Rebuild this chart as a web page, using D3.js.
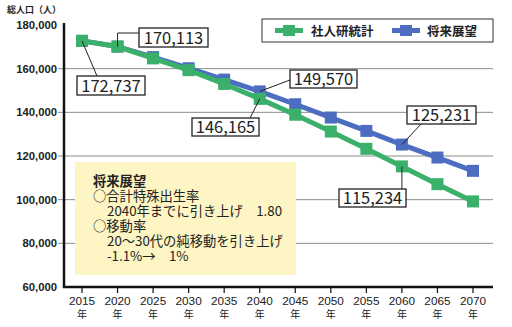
<!DOCTYPE html>
<html>
<head>
<meta charset="utf-8">
<script src="https://cdn.jsdelivr.net/npm/d3@7"></script>
<style>
  html, body { margin: 0; padding: 0; background: #fff; }
  svg { display: block; }
</style>
</head>
<body>
<svg id="chart" width="512" height="327"></svg>
<script>
// Population projection: 社人研統計 vs 将来展望
const years = [2015, 2020, 2025, 2030, 2035, 2040, 2045, 2050, 2055, 2060, 2065, 2070];
const shajinken = [172737, 170113, 164700, 159300, 153000, 146165, 138900, 131200, 123300, 115234, 107100, 99200];
const shorai = [172737, 170113, 165300, 160200, 155000, 149570, 143700, 137600, 131500, 125231, 119300, 113200];
const yTicks = [60000, 80000, 100000, 120000, 140000, 160000, 180000];
const seriesNames = ["社人研統計", "将来展望"];
const noteLines = ["将来展望", "○合計特殊出生率", "2040年までに引き上げ　1.80", "○移動率", "20～30代の純移動を引き上げ", "-1.1%→　1%"];

const colors = { green: "#3bb06a", blue: "#4d6ec0" };
const jp = "'Noto Sans CJK JP', 'Noto Sans', sans-serif";
const num = "'Liberation Sans', Arial, sans-serif";

const svg = d3.select("#chart");
const plot = { left: 64, right: 493, top: 25, bottom: 287 };

const x = d3.scalePoint().domain(years).range([82, 473]);
const y = d3.scaleLinear().domain([60000, 180000]).range([plot.bottom, plot.top]);

// gridlines
svg.append("g").selectAll("line")
  .data(yTicks.filter(v => v > 60000 && v < 180000))
  .join("line")
  .attr("x1", plot.left - 6).attr("x2", plot.right)
  .attr("y1", d => y(d)).attr("y2", d => y(d))
  .attr("stroke", "#8c8c8c").attr("stroke-width", 1);

// y tick labels
svg.append("g").selectAll("text")
  .data(yTicks).join("text")
  .attr("x", 57).attr("y", d => y(d) + 4)
  .attr("text-anchor", "end")
  .attr("font-family", num).attr("font-weight", "bold")
  .attr("font-size", 11.3).attr("fill", "#222")
  .text(d => d3.format(",")(d));

// y-axis title
svg.append("text").attr("x", 7).attr("y", 13)
  .attr("font-family", jp).attr("font-weight", "bold")
  .attr("font-size", 9).attr("fill", "#222")
  .text("総人口（人）");

// note box (one text block, one line per tspan)
const note = svg.append("g");
note.append("rect").attr("x", 75).attr("y", 162).attr("width", 221).attr("height", 113)
  .attr("fill", "#fdf5c4");
const noteX = [93, 93, 107, 93, 107, 107];
const noteY = [186, 201, 216, 231, 246, 261];
note.append("text")
  .attr("font-family", jp).attr("font-size", 13.3).attr("fill", "#222")
  .selectAll("tspan").data(noteLines).join("tspan")
  .attr("x", (d, i) => noteX[i]).attr("y", (d, i) => noteY[i])
  .attr("font-weight", (d, i) => i === 0 ? "bold" : "normal")
  .text(d => d);

// axes lines
svg.append("line").attr("x1", plot.left).attr("x2", plot.left).attr("y1", plot.top - 2).attr("y2", plot.bottom + 1)
  .attr("stroke", "#111").attr("stroke-width", 2.5);
svg.append("line").attr("x1", plot.left - 1).attr("x2", plot.right).attr("y1", plot.bottom).attr("y2", plot.bottom)
  .attr("stroke", "#111").attr("stroke-width", 2.5);

// x ticks
const xg = svg.append("g");
xg.selectAll("line").data(years).join("line")
  .attr("x1", d => x(d)).attr("x2", d => x(d))
  .attr("y1", plot.bottom).attr("y2", plot.bottom + 6)
  .attr("stroke", "#111").attr("stroke-width", 1.2);
xg.selectAll("text.yr").data(years).join("text").attr("class", "yr")
  .attr("x", d => x(d)).attr("y", 305)
  .attr("text-anchor", "middle")
  .attr("font-family", num).attr("font-size", 11.8).attr("fill", "#222")
  .text(d => d);
xg.selectAll("text.nen").data(years).join("text").attr("class", "nen")
  .attr("x", d => x(d)).attr("y", 318)
  .attr("text-anchor", "middle")
  .attr("font-family", jp).attr("font-size", 10).attr("fill", "#222")
  .text("年");

// series
const line = d3.line().x(d => x(d[0])).y(d => y(d[1]));
function drawSeries(vals, color) {
  const pts = years.map((yr, i) => [yr, vals[i]]);
  svg.append("path").datum(pts).attr("d", line)
    .attr("fill", "none").attr("stroke", color).attr("stroke-width", 5)
    .attr("stroke-linejoin", "round");
  svg.append("g").selectAll("rect").data(pts).join("rect")
    .attr("x", d => x(d[0]) - 6).attr("y", d => y(d[1]) - 6)
    .attr("width", 12).attr("height", 12).attr("fill", color);
}
drawSeries(shorai, colors.blue);
drawSeries(shajinken, colors.green);

// value callouts
function callout(series, idx, bx, by, bw, bh, path) {
  const v = series[idx];
  const px = x(years[idx]), py = y(v);
  const g = svg.append("g");
  g.append("path").attr("d", path(px, py)).attr("fill", "none")
    .attr("stroke", "#222").attr("stroke-width", 1);
  g.append("rect").attr("x", bx).attr("y", by).attr("width", bw).attr("height", bh)
    .attr("fill", "#fff").attr("stroke", "#222").attr("stroke-width", 1.3);
  g.append("text").attr("x", bx + bw / 2).attr("y", by + bh / 2 + 6)
    .attr("text-anchor", "middle")
    .attr("font-family", jp).attr("font-size", 16.5).attr("fill", "#222")
    .text(d3.format(",")(v));
}
callout(shajinken, 0, 77, 76, 68, 19, (px, py) => `M${px},${py}L97,76`);
callout(shajinken, 1, 139, 28, 69, 19, (px, py) => `M${px},${py}L${px},33L139,33`);
callout(shorai, 5, 290, 70, 67, 18, (px, py) => `M${px},${py}L290,80`);
callout(shajinken, 5, 192, 118, 67, 18, (px, py) => `M${px},${py}L250,118`);
callout(shorai, 9, 407, 106, 69, 18, (px, py) => `M${px},${py}L421,124`);
callout(shajinken, 9, 339, 189, 67, 18, (px, py) => `M${px},${py}L${px},189`);

// legend
const lg = svg.append("g");
lg.append("rect").attr("x", 262).attr("y", 19).attr("width", 231).attr("height", 23)
  .attr("fill", "#fff").attr("stroke", "#333").attr("stroke-width", 1);
const legendItems = [
  { name: seriesNames[0], color: colors.green, x0: 275, tx: 311 },
  { name: seriesNames[1], color: colors.blue, x0: 392, tx: 427 }
];
legendItems.forEach(it => {
  lg.append("line").attr("x1", it.x0).attr("x2", it.x0 + 28).attr("y1", 30.5).attr("y2", 30.5)
    .attr("stroke", it.color).attr("stroke-width", 5);
  lg.append("rect").attr("x", it.x0 + 8).attr("y", 25).attr("width", 12).attr("height", 11)
    .attr("fill", it.color);
  lg.append("text").attr("x", it.tx).attr("y", 35.5)
    .attr("font-family", jp).attr("font-weight", "bold").attr("font-size", 12.5)
    .attr("fill", "#222").text(it.name);
});
</script>
</body>
</html>
